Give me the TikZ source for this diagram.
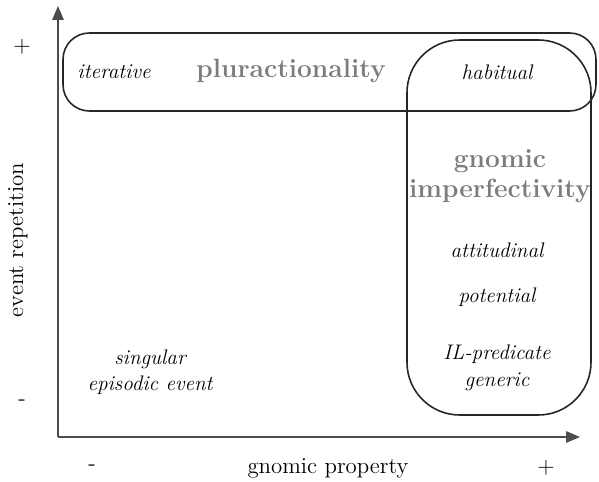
\documentclass[tikz,border=0pt]{standalone}
\usepackage{xcolor}
\usetikzlibrary{arrows}
\usetikzlibrary{calc}

\definecolor{labelgray}{RGB}{125,125,125}
\tikzset{
  axis line/.style={draw=black!70,line width=0.8pt,-triangle 45},
  region/.style={draw=black!85,line width=0.9pt},
  kind/.style={font=\itshape\fontsize{12}{14}\selectfont,align=center},
  domainlabel/.style={font=\bfseries\fontsize{15}{17}\selectfont,text=labelgray,align=center},
  signlabel/.style={font=\fontsize{13}{15}\selectfont}
}

\begin{document}
\begin{tikzpicture}[x=0.02cm,y=-0.02cm]
      \useasboundingbox (0,0) rectangle (599,482);

      % axes
      \coordinate (origin) at (58,437);
      \coordinate (ytop) at (58,6);
      \coordinate (xend) at (580,437);
      \draw[axis line] (origin) -- (ytop);
      \draw[axis line] (origin) -- (xend);

      % the two regions
      \draw[region,rounded corners=15] (63,33) rectangle (596,111);
      \draw[region,rounded corners=30] (407,40) rectangle (591,415);

      \node[signlabel] (yplus) at (22,47) {+};
      \node[signlabel] (yminus) at (22,403) {-};
      \node[signlabel] (xminus) at (92,468) {-};
      \node[signlabel] (xplus) at (546,468) {+};
      \node[signlabel] (xlabel) at (328,468) {gnomic property};
      \node[signlabel,rotate=90] (ylabel) at (18,240) {event repetition};

      \node[kind] (iterative) at (114,72) {iterative};
      \node[domainlabel] (plur) at (291,71) {pluractionality};
      \node[kind] (habitual) at (497,72) {habitual};

      \node[domainlabel] (gnomic) at (500,176) {gnomic\\[0pt]imperfectivity};
      \node[kind] (attitudinal) at (497,250) {attitudinal};
      \node[kind] (potential) at (497,297) {potential};
      \node[kind] (ilpred) at (497,368) {IL-predicate\\[1pt]generic};

      \node[kind] (singular) at (150,372) {singular\\[1pt]episodic event};
    \end{tikzpicture}
\end{document}
